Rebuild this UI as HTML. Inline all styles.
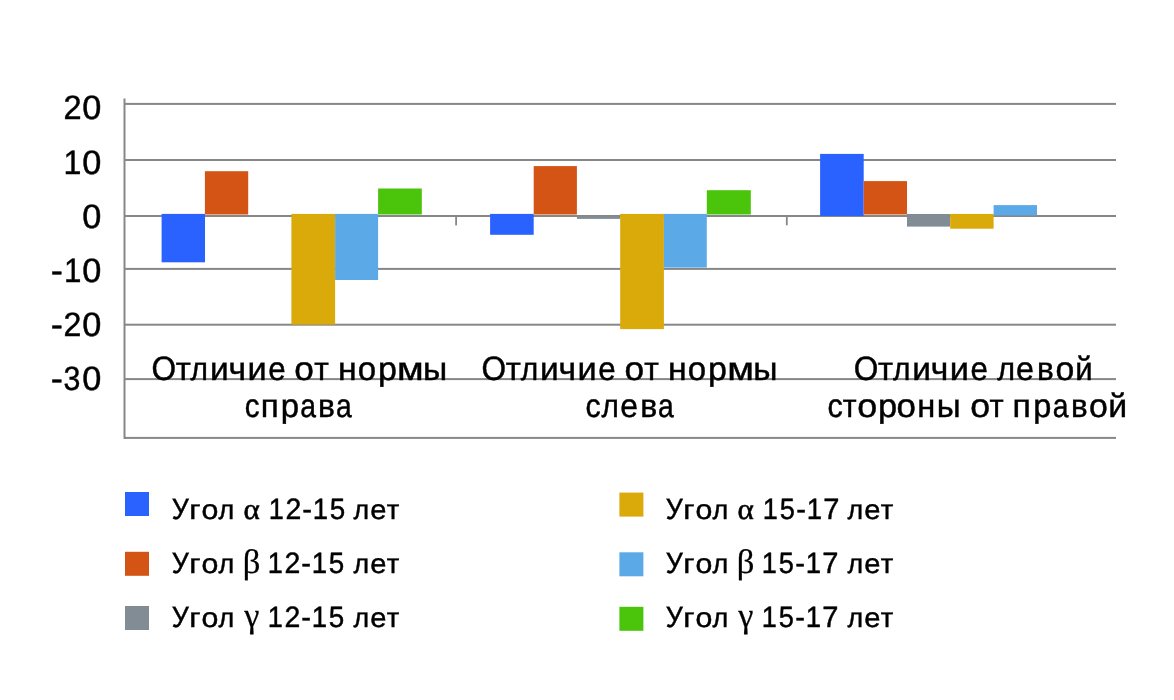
<!DOCTYPE html>
<html lang="ru"><head><meta charset="utf-8"><title>Диаграмма</title>
<style>html,body{margin:0;padding:0;background:#fff}body{width:1174px;height:700px;overflow:hidden}svg{display:block}text{fill:#000;white-space:pre}</style></head><body>
<svg width="1174" height="700" viewBox="0 0 1174 700" role="img" aria-label="Диаграмма">
<rect width="1174" height="700" fill="#fff"/>
<g fill="#878787">
<rect x="124.4" y="102.90" width="991.6" height="2"/>
<rect x="124.4" y="159.00" width="991.6" height="2"/>
<rect x="124.4" y="267.90" width="991.6" height="2"/>
<rect x="124.4" y="323.70" width="991.6" height="2"/>
<rect x="124.4" y="378.10" width="991.6" height="2"/>
<rect x="124.4" y="436.90" width="991.6" height="2"/>
<rect x="123.5" y="98.5" width="2" height="340.4"/>
<rect x="124.4" y="215" width="991.6" height="2"/>
<rect x="455.2" y="215" width="1.8" height="10.4"/>
<rect x="785.9" y="215" width="1.8" height="10.3"/>
</g>
<g>
<rect x="161.6" y="213.9" width="43.40" height="48.40" fill="#2962FF"/>
<rect x="204.9" y="171.2" width="43.30" height="43.30" fill="#D35415"/>
<rect x="291.4" y="213.9" width="43.70" height="110.70" fill="#DAA90A"/>
<rect x="335.1" y="213.9" width="43.00" height="66.10" fill="#5CA9E8"/>
<rect x="378.1" y="188.5" width="43.70" height="26.00" fill="#4AC50C"/>
<rect x="490.1" y="213.9" width="43.60" height="20.90" fill="#2962FF"/>
<rect x="533.7" y="166.1" width="43.20" height="48.40" fill="#D35415"/>
<rect x="576.9" y="216.5" width="43.30" height="2.40" fill="#818C95"/>
<rect x="620.2" y="213.9" width="43.70" height="115.20" fill="#DAA90A"/>
<rect x="663.9" y="213.9" width="42.90" height="53.70" fill="#5CA9E8"/>
<rect x="706.8" y="190.2" width="44.00" height="24.30" fill="#4AC50C"/>
<rect x="820.1" y="153.9" width="43.60" height="62.10" fill="#2962FF"/>
<rect x="863.7" y="181.1" width="43.30" height="33.40" fill="#D35415"/>
<rect x="907.0" y="214.0" width="43.20" height="12.60" fill="#818C95"/>
<rect x="950.2" y="213.9" width="43.40" height="14.80" fill="#DAA90A"/>
<rect x="993.6" y="205.1" width="43.40" height="10.30" fill="#5CA9E8"/>
</g>
<g text-rendering="geometricPrecision" stroke="#000" stroke-width="0.45">
<text y="119" font-family="'Liberation Sans', sans-serif" font-size="33.85"><tspan x="63.38" textLength="18.12" lengthAdjust="spacingAndGlyphs">2</tspan><tspan x="82.19" textLength="19.11" lengthAdjust="spacingAndGlyphs">0</tspan></text>
<text y="174" font-family="'Liberation Sans', sans-serif" font-size="33.85"><tspan x="63.46" textLength="17.90" lengthAdjust="spacingAndGlyphs">1</tspan><tspan x="82.19" textLength="19.11" lengthAdjust="spacingAndGlyphs">0</tspan></text>
<text y="228" font-family="'Liberation Sans', sans-serif" font-size="33.85"><tspan x="82.19" textLength="19.11" lengthAdjust="spacingAndGlyphs">0</tspan></text>
<text y="282" font-family="'Liberation Sans', sans-serif" font-size="33.85"><tspan x="50.66" textLength="12.10" lengthAdjust="spacingAndGlyphs">-</tspan><tspan x="63.92" textLength="17.41" lengthAdjust="spacingAndGlyphs">1</tspan><tspan x="82.19" textLength="19.11" lengthAdjust="spacingAndGlyphs">0</tspan></text>
<text y="336" font-family="'Liberation Sans', sans-serif" font-size="33.85"><tspan x="50.66" textLength="12.10" lengthAdjust="spacingAndGlyphs">-</tspan><tspan x="63.59" textLength="17.89" lengthAdjust="spacingAndGlyphs">2</tspan><tspan x="82.19" textLength="19.11" lengthAdjust="spacingAndGlyphs">0</tspan></text>
<text y="390" font-family="'Liberation Sans', sans-serif" font-size="33.85"><tspan x="50.66" textLength="12.10" lengthAdjust="spacingAndGlyphs">-</tspan><tspan x="63.60" textLength="16.87" lengthAdjust="spacingAndGlyphs">3</tspan><tspan x="82.19" textLength="19.11" lengthAdjust="spacingAndGlyphs">0</tspan></text>
<text y="380" font-family="'Liberation Sans', sans-serif" font-size="32.9"><tspan x="151.51" textLength="24.59" lengthAdjust="spacingAndGlyphs" font-size="33.6">О</tspan><tspan x="175.65" textLength="15.08" lengthAdjust="spacingAndGlyphs">т</tspan><tspan x="190.61" textLength="17.46" lengthAdjust="spacingAndGlyphs">л</tspan><tspan x="209.97" textLength="18.66" lengthAdjust="spacingAndGlyphs">и</tspan><tspan x="228.54" textLength="17.52" lengthAdjust="spacingAndGlyphs">ч</tspan><tspan x="247.51" textLength="19.17" lengthAdjust="spacingAndGlyphs">и</tspan><tspan x="268.23" textLength="17.38" lengthAdjust="spacingAndGlyphs">е</tspan> <tspan x="294.39" textLength="19.63" lengthAdjust="spacingAndGlyphs">о</tspan><tspan x="314.16" textLength="14.56" lengthAdjust="spacingAndGlyphs">т</tspan> <tspan x="337.95" textLength="18.65" lengthAdjust="spacingAndGlyphs">н</tspan><tspan x="357.77" textLength="18.38" lengthAdjust="spacingAndGlyphs">о</tspan><tspan x="377.96" textLength="18.92" lengthAdjust="spacingAndGlyphs">р</tspan><tspan x="397.10" textLength="26.70" lengthAdjust="spacingAndGlyphs">м</tspan><tspan x="423.05" textLength="24.21" lengthAdjust="spacingAndGlyphs">ы</tspan></text>
<text y="417" font-family="'Liberation Sans', sans-serif" font-size="32.9"><tspan x="244.64" textLength="14.78" lengthAdjust="spacingAndGlyphs">с</tspan><tspan x="260.88" textLength="17.97" lengthAdjust="spacingAndGlyphs">п</tspan><tspan x="280.82" textLength="18.33" lengthAdjust="spacingAndGlyphs">р</tspan><tspan x="300.13" textLength="15.74" lengthAdjust="spacingAndGlyphs">а</tspan><tspan x="317.97" textLength="16.91" lengthAdjust="spacingAndGlyphs">в</tspan><tspan x="336.03" textLength="15.74" lengthAdjust="spacingAndGlyphs">а</tspan></text>
<text y="380" font-family="'Liberation Sans', sans-serif" font-size="32.9"><tspan x="481.61" textLength="24.59" lengthAdjust="spacingAndGlyphs" font-size="33.6">О</tspan><tspan x="505.75" textLength="15.08" lengthAdjust="spacingAndGlyphs">т</tspan><tspan x="520.71" textLength="17.46" lengthAdjust="spacingAndGlyphs">л</tspan><tspan x="540.07" textLength="18.66" lengthAdjust="spacingAndGlyphs">и</tspan><tspan x="558.64" textLength="17.52" lengthAdjust="spacingAndGlyphs">ч</tspan><tspan x="577.61" textLength="19.17" lengthAdjust="spacingAndGlyphs">и</tspan><tspan x="598.33" textLength="17.38" lengthAdjust="spacingAndGlyphs">е</tspan> <tspan x="624.49" textLength="19.63" lengthAdjust="spacingAndGlyphs">о</tspan><tspan x="644.26" textLength="14.56" lengthAdjust="spacingAndGlyphs">т</tspan> <tspan x="668.05" textLength="18.65" lengthAdjust="spacingAndGlyphs">н</tspan><tspan x="687.87" textLength="18.38" lengthAdjust="spacingAndGlyphs">о</tspan><tspan x="708.06" textLength="18.92" lengthAdjust="spacingAndGlyphs">р</tspan><tspan x="727.20" textLength="26.70" lengthAdjust="spacingAndGlyphs">м</tspan><tspan x="753.15" textLength="24.21" lengthAdjust="spacingAndGlyphs">ы</tspan></text>
<text y="417" font-family="'Liberation Sans', sans-serif" font-size="32.9"><tspan x="585.46" textLength="15.17" lengthAdjust="spacingAndGlyphs">с</tspan><tspan x="601.61" textLength="17.35" lengthAdjust="spacingAndGlyphs">л</tspan><tspan x="620.31" textLength="17.73" lengthAdjust="spacingAndGlyphs">е</tspan><tspan x="640.15" textLength="17.03" lengthAdjust="spacingAndGlyphs">в</tspan><tspan x="658.03" textLength="15.74" lengthAdjust="spacingAndGlyphs">а</tspan></text>
<text y="380" font-family="'Liberation Sans', sans-serif" font-size="32.9"><tspan x="853.81" textLength="24.59" lengthAdjust="spacingAndGlyphs" font-size="33.6">О</tspan><tspan x="877.95" textLength="15.08" lengthAdjust="spacingAndGlyphs">т</tspan><tspan x="892.91" textLength="17.46" lengthAdjust="spacingAndGlyphs">л</tspan><tspan x="912.27" textLength="18.66" lengthAdjust="spacingAndGlyphs">и</tspan><tspan x="930.84" textLength="17.52" lengthAdjust="spacingAndGlyphs">ч</tspan><tspan x="949.81" textLength="19.17" lengthAdjust="spacingAndGlyphs">и</tspan><tspan x="970.53" textLength="17.38" lengthAdjust="spacingAndGlyphs">е</tspan> <tspan x="997.22" textLength="17.79" lengthAdjust="spacingAndGlyphs">л</tspan><tspan x="1016.10" textLength="17.95" lengthAdjust="spacingAndGlyphs">е</tspan><tspan x="1036.88" textLength="16.78" lengthAdjust="spacingAndGlyphs">в</tspan><tspan x="1055.44" textLength="18.84" lengthAdjust="spacingAndGlyphs">о</tspan><tspan x="1075.31" textLength="17.38" lengthAdjust="spacingAndGlyphs">й</tspan></text>
<text y="417" font-family="'Liberation Sans', sans-serif" font-size="32.9"><tspan x="827.46" textLength="15.28" lengthAdjust="spacingAndGlyphs">с</tspan><tspan x="842.77" textLength="13.83" lengthAdjust="spacingAndGlyphs">т</tspan><tspan x="857.17" textLength="19.97" lengthAdjust="spacingAndGlyphs">о</tspan><tspan x="878.04" textLength="19.16" lengthAdjust="spacingAndGlyphs">р</tspan><tspan x="896.61" textLength="19.40" lengthAdjust="spacingAndGlyphs">о</tspan><tspan x="917.32" textLength="18.01" lengthAdjust="spacingAndGlyphs">н</tspan><tspan x="936.78" textLength="23.85" lengthAdjust="spacingAndGlyphs">ы</tspan> <tspan x="970.38" textLength="19.86" lengthAdjust="spacingAndGlyphs">о</tspan><tspan x="989.57" textLength="14.14" lengthAdjust="spacingAndGlyphs">т</tspan> <tspan x="1012.64" textLength="18.36" lengthAdjust="spacingAndGlyphs">п</tspan><tspan x="1033.15" textLength="18.09" lengthAdjust="spacingAndGlyphs">р</tspan><tspan x="1052.83" textLength="15.74" lengthAdjust="spacingAndGlyphs">а</tspan><tspan x="1071.09" textLength="16.66" lengthAdjust="spacingAndGlyphs">в</tspan><tspan x="1089.14" textLength="18.84" lengthAdjust="spacingAndGlyphs">о</tspan><tspan x="1108.34" textLength="18.92" lengthAdjust="spacingAndGlyphs">й</tspan></text>
<rect x="125" y="492.0" width="24" height="24" fill="#2962FF" stroke="none"/>
<text y="519" font-family="'Liberation Sans', sans-serif" font-size="27.7"><tspan x="171.76" textLength="17.04" lengthAdjust="spacingAndGlyphs" font-size="29.6">У</tspan><tspan x="189.37" textLength="11.37" lengthAdjust="spacingAndGlyphs">г</tspan><tspan x="201.44" textLength="16.85" lengthAdjust="spacingAndGlyphs">о</tspan><tspan x="218.62" textLength="15.69" lengthAdjust="spacingAndGlyphs">л</tspan> <tspan x="243.51" textLength="16.36" lengthAdjust="spacingAndGlyphs" font-size="29.5" font-family="'Liberation Serif', serif" stroke-width="0.55">α</tspan> <tspan x="268.86" textLength="15.08" lengthAdjust="spacingAndGlyphs" font-size="29.45">1</tspan><tspan x="285.39" textLength="15.81" lengthAdjust="spacingAndGlyphs" font-size="29.45">2</tspan><tspan x="302.31" textLength="9.75" lengthAdjust="spacingAndGlyphs" font-size="29.45">-</tspan><tspan x="312.63" textLength="15.32" lengthAdjust="spacingAndGlyphs" font-size="29.45">1</tspan><tspan x="329.67" textLength="15.47" lengthAdjust="spacingAndGlyphs" font-size="29.45">5</tspan> <tspan x="353.42" textLength="15.58" lengthAdjust="spacingAndGlyphs">л</tspan><tspan x="370.18" textLength="16.17" lengthAdjust="spacingAndGlyphs">е</tspan><tspan x="386.75" textLength="12.53" lengthAdjust="spacingAndGlyphs">т</tspan></text>
<rect x="125" y="551.8" width="24" height="24" fill="#D35415" stroke="none"/>
<text y="573" font-family="'Liberation Sans', sans-serif" font-size="27.7"><tspan x="171.76" textLength="17.04" lengthAdjust="spacingAndGlyphs" font-size="29.6">У</tspan><tspan x="189.37" textLength="11.37" lengthAdjust="spacingAndGlyphs">г</tspan><tspan x="201.44" textLength="16.85" lengthAdjust="spacingAndGlyphs">о</tspan><tspan x="218.62" textLength="15.69" lengthAdjust="spacingAndGlyphs">л</tspan> <tspan x="242.66" textLength="17.68" lengthAdjust="spacingAndGlyphs" font-size="34.0" font-family="'Liberation Serif', serif" stroke-width="0.25">β</tspan> <tspan x="267.86" textLength="15.08" lengthAdjust="spacingAndGlyphs" font-size="29.45">1</tspan><tspan x="284.39" textLength="15.81" lengthAdjust="spacingAndGlyphs" font-size="29.45">2</tspan><tspan x="301.31" textLength="9.75" lengthAdjust="spacingAndGlyphs" font-size="29.45">-</tspan><tspan x="311.63" textLength="15.32" lengthAdjust="spacingAndGlyphs" font-size="29.45">1</tspan><tspan x="328.67" textLength="15.47" lengthAdjust="spacingAndGlyphs" font-size="29.45">5</tspan> <tspan x="353.42" textLength="15.58" lengthAdjust="spacingAndGlyphs">л</tspan><tspan x="370.18" textLength="16.17" lengthAdjust="spacingAndGlyphs">е</tspan><tspan x="386.75" textLength="12.53" lengthAdjust="spacingAndGlyphs">т</tspan></text>
<rect x="125" y="606.0" width="24" height="24" fill="#818C95" stroke="none"/>
<text y="627" font-family="'Liberation Sans', sans-serif" font-size="27.7"><tspan x="171.76" textLength="17.04" lengthAdjust="spacingAndGlyphs" font-size="29.6">У</tspan><tspan x="189.37" textLength="11.37" lengthAdjust="spacingAndGlyphs">г</tspan><tspan x="201.44" textLength="16.85" lengthAdjust="spacingAndGlyphs">о</tspan><tspan x="218.62" textLength="15.69" lengthAdjust="spacingAndGlyphs">л</tspan> <tspan x="244.14" textLength="15.14" lengthAdjust="spacingAndGlyphs" font-size="35.0" font-family="'Liberation Serif', serif" stroke-width="0.25">γ</tspan> <tspan x="267.86" textLength="15.08" lengthAdjust="spacingAndGlyphs" font-size="29.45">1</tspan><tspan x="284.39" textLength="15.81" lengthAdjust="spacingAndGlyphs" font-size="29.45">2</tspan><tspan x="301.31" textLength="9.75" lengthAdjust="spacingAndGlyphs" font-size="29.45">-</tspan><tspan x="311.63" textLength="15.32" lengthAdjust="spacingAndGlyphs" font-size="29.45">1</tspan><tspan x="328.67" textLength="15.47" lengthAdjust="spacingAndGlyphs" font-size="29.45">5</tspan> <tspan x="353.42" textLength="15.58" lengthAdjust="spacingAndGlyphs">л</tspan><tspan x="370.18" textLength="16.17" lengthAdjust="spacingAndGlyphs">е</tspan><tspan x="386.75" textLength="12.53" lengthAdjust="spacingAndGlyphs">т</tspan></text>
<rect x="619.4" y="492.6" width="24" height="24" fill="#DAA90A" stroke="none"/>
<text y="519" font-family="'Liberation Sans', sans-serif" font-size="27.7"><tspan x="665.76" textLength="17.04" lengthAdjust="spacingAndGlyphs" font-size="29.6">У</tspan><tspan x="683.37" textLength="11.37" lengthAdjust="spacingAndGlyphs">г</tspan><tspan x="695.44" textLength="16.85" lengthAdjust="spacingAndGlyphs">о</tspan><tspan x="712.62" textLength="15.69" lengthAdjust="spacingAndGlyphs">л</tspan> <tspan x="737.51" textLength="16.36" lengthAdjust="spacingAndGlyphs" font-size="29.5" font-family="'Liberation Serif', serif" stroke-width="0.55">α</tspan> <tspan x="762.86" textLength="15.08" lengthAdjust="spacingAndGlyphs" font-size="29.45">1</tspan><tspan x="779.79" textLength="15.13" lengthAdjust="spacingAndGlyphs" font-size="29.45">5</tspan><tspan x="796.31" textLength="9.75" lengthAdjust="spacingAndGlyphs" font-size="29.45">-</tspan><tspan x="806.63" textLength="15.32" lengthAdjust="spacingAndGlyphs" font-size="29.45">1</tspan><tspan x="823.27" textLength="16.17" lengthAdjust="spacingAndGlyphs" font-size="29.45">7</tspan> <tspan x="847.42" textLength="15.58" lengthAdjust="spacingAndGlyphs">л</tspan><tspan x="864.18" textLength="16.17" lengthAdjust="spacingAndGlyphs">е</tspan><tspan x="880.75" textLength="12.53" lengthAdjust="spacingAndGlyphs">т</tspan></text>
<rect x="619.4" y="552.3" width="24" height="24" fill="#5CA9E8" stroke="none"/>
<text y="573" font-family="'Liberation Sans', sans-serif" font-size="27.7"><tspan x="665.76" textLength="17.04" lengthAdjust="spacingAndGlyphs" font-size="29.6">У</tspan><tspan x="683.37" textLength="11.37" lengthAdjust="spacingAndGlyphs">г</tspan><tspan x="695.44" textLength="16.85" lengthAdjust="spacingAndGlyphs">о</tspan><tspan x="712.62" textLength="15.69" lengthAdjust="spacingAndGlyphs">л</tspan> <tspan x="736.66" textLength="17.68" lengthAdjust="spacingAndGlyphs" font-size="34.0" font-family="'Liberation Serif', serif" stroke-width="0.25">β</tspan> <tspan x="761.86" textLength="15.08" lengthAdjust="spacingAndGlyphs" font-size="29.45">1</tspan><tspan x="778.79" textLength="15.13" lengthAdjust="spacingAndGlyphs" font-size="29.45">5</tspan><tspan x="795.31" textLength="9.75" lengthAdjust="spacingAndGlyphs" font-size="29.45">-</tspan><tspan x="805.63" textLength="15.32" lengthAdjust="spacingAndGlyphs" font-size="29.45">1</tspan><tspan x="822.27" textLength="16.17" lengthAdjust="spacingAndGlyphs" font-size="29.45">7</tspan> <tspan x="847.42" textLength="15.58" lengthAdjust="spacingAndGlyphs">л</tspan><tspan x="864.18" textLength="16.17" lengthAdjust="spacingAndGlyphs">е</tspan><tspan x="880.75" textLength="12.53" lengthAdjust="spacingAndGlyphs">т</tspan></text>
<rect x="619.4" y="606.8" width="24" height="24" fill="#4AC50C" stroke="none"/>
<text y="627" font-family="'Liberation Sans', sans-serif" font-size="27.7"><tspan x="665.76" textLength="17.04" lengthAdjust="spacingAndGlyphs" font-size="29.6">У</tspan><tspan x="683.37" textLength="11.37" lengthAdjust="spacingAndGlyphs">г</tspan><tspan x="695.44" textLength="16.85" lengthAdjust="spacingAndGlyphs">о</tspan><tspan x="712.62" textLength="15.69" lengthAdjust="spacingAndGlyphs">л</tspan> <tspan x="738.14" textLength="15.14" lengthAdjust="spacingAndGlyphs" font-size="35.0" font-family="'Liberation Serif', serif" stroke-width="0.25">γ</tspan> <tspan x="761.86" textLength="15.08" lengthAdjust="spacingAndGlyphs" font-size="29.45">1</tspan><tspan x="778.79" textLength="15.13" lengthAdjust="spacingAndGlyphs" font-size="29.45">5</tspan><tspan x="795.31" textLength="9.75" lengthAdjust="spacingAndGlyphs" font-size="29.45">-</tspan><tspan x="805.63" textLength="15.32" lengthAdjust="spacingAndGlyphs" font-size="29.45">1</tspan><tspan x="822.27" textLength="16.17" lengthAdjust="spacingAndGlyphs" font-size="29.45">7</tspan> <tspan x="847.42" textLength="15.58" lengthAdjust="spacingAndGlyphs">л</tspan><tspan x="864.18" textLength="16.17" lengthAdjust="spacingAndGlyphs">е</tspan><tspan x="880.75" textLength="12.53" lengthAdjust="spacingAndGlyphs">т</tspan></text>
</g>
</svg></body></html>
